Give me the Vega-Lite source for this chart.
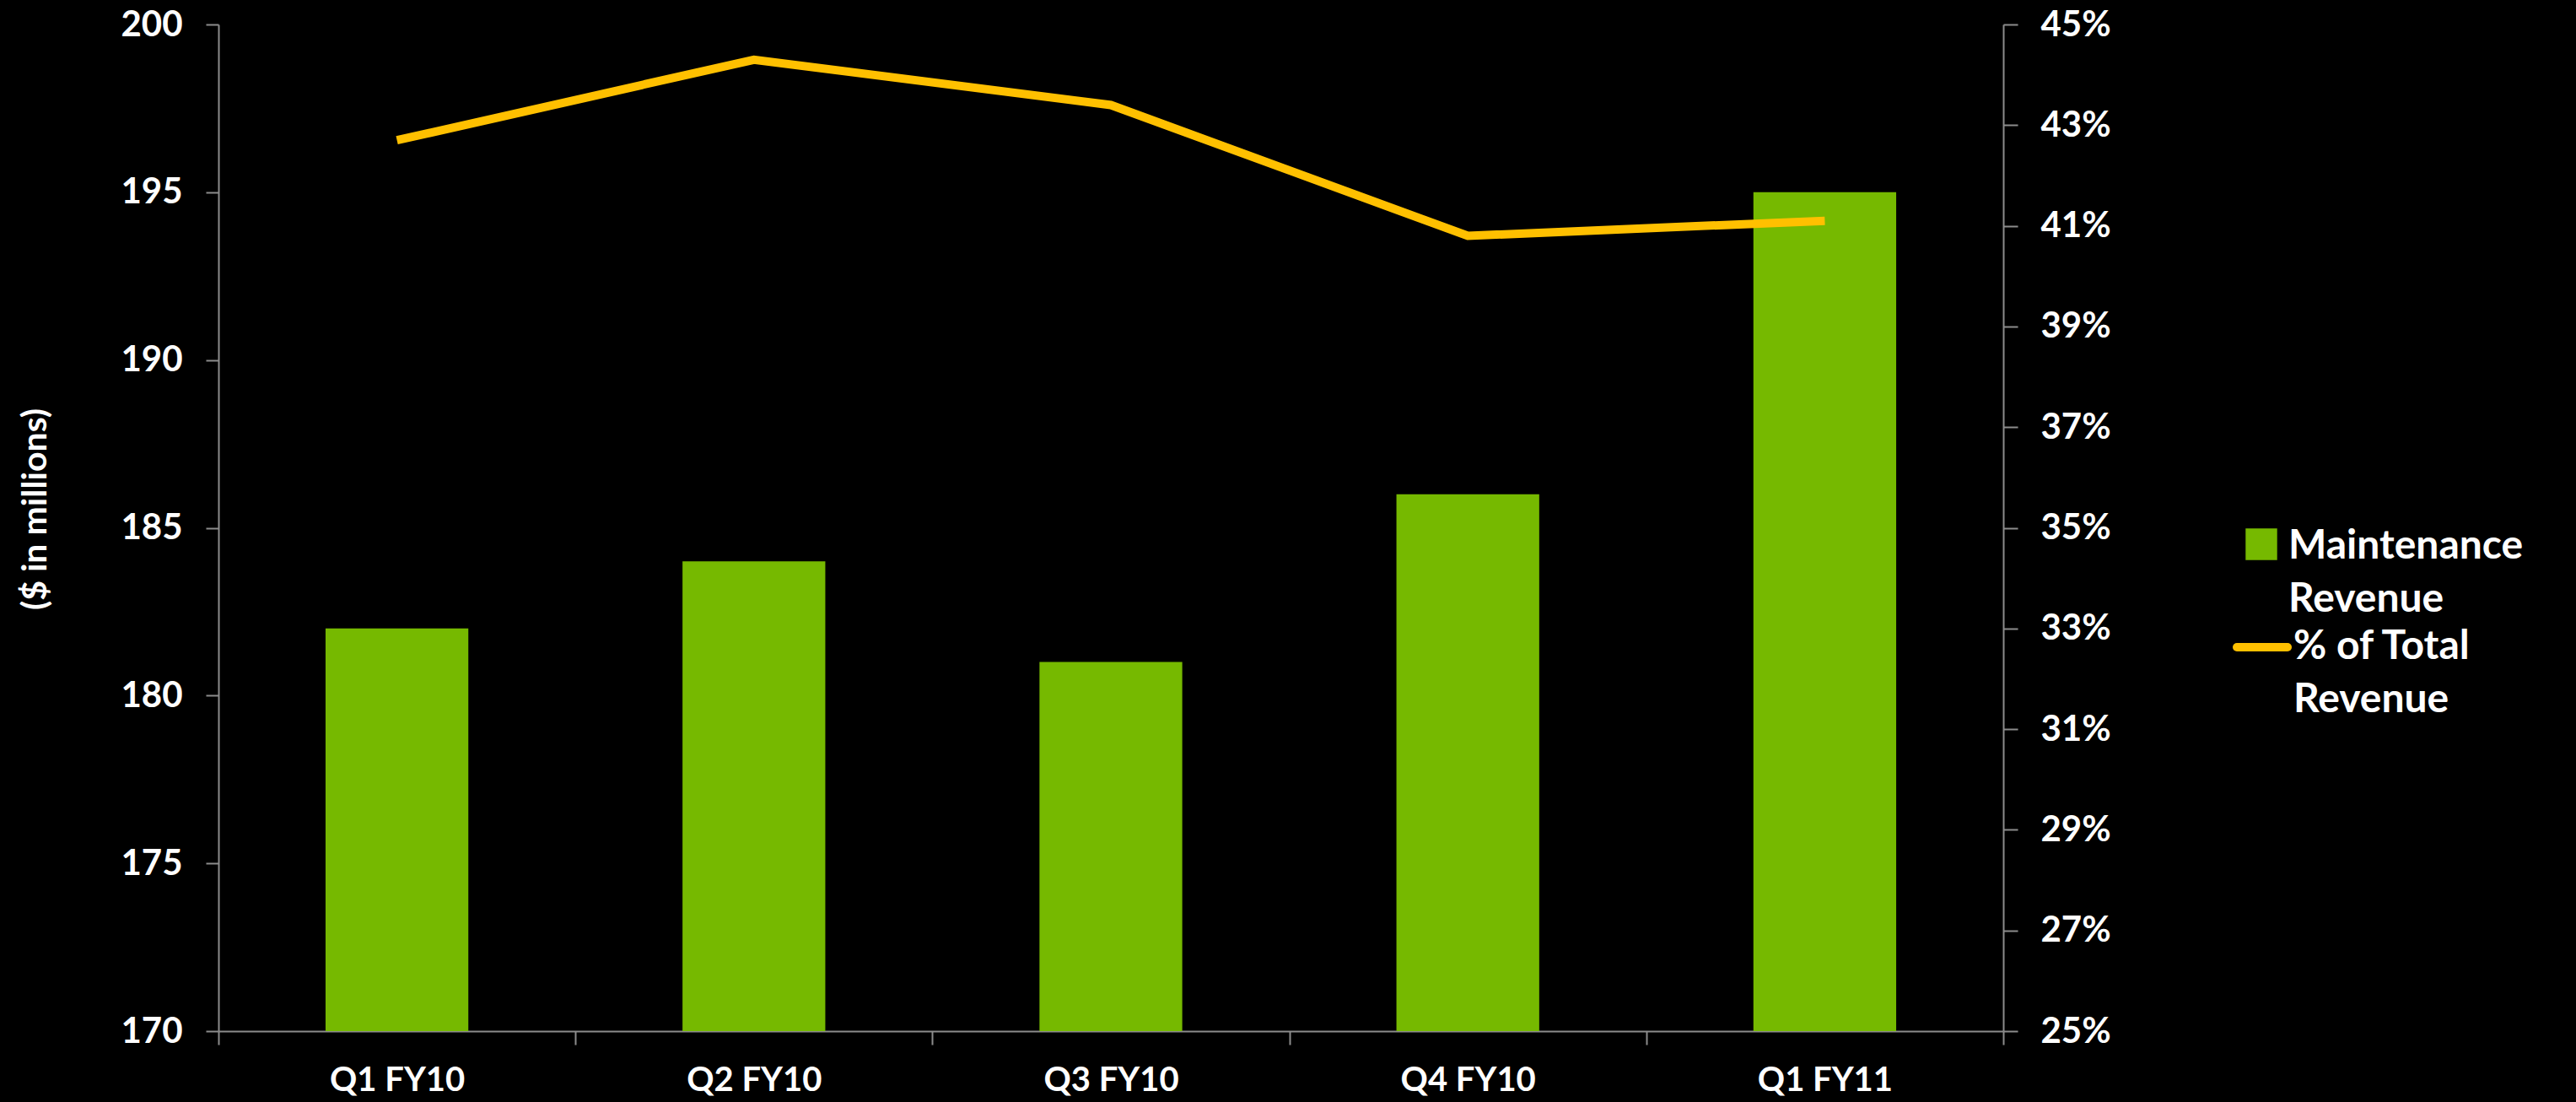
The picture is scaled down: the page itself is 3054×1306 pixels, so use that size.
{
  "$schema": "https://vega.github.io/schema/vega-lite/v6.json",
  "width": 2116,
  "height": 1193,
  "autosize": {"type": "none"},
  "padding": {"left": 259, "top": 29, "right": 679, "bottom": 84},
  "background": "#000000",
  "config": {
    "view": {"stroke": null},
    "font": "Lato",
    "axis": {
      "domainColor": "#8c8c8c",
      "tickColor": "#8c8c8c",
      "domainWidth": 2,
      "tickWidth": 2,
      "labelColor": "#ffffff",
      "labelFont": "Lato",
      "labelFontWeight": "bold",
      "labelFontSize": 42,
      "grid": false
    }
  },
  "data": {
    "values": [
      {"quarter": "Q1 FY10", "revenue": 182, "pct": 42.7},
      {"quarter": "Q2 FY10", "revenue": 184, "pct": 44.3},
      {"quarter": "Q3 FY10", "revenue": 181, "pct": 43.4},
      {"quarter": "Q4 FY10", "revenue": 186, "pct": 40.8},
      {"quarter": "Q1 FY11", "revenue": 195, "pct": 41.1}
    ]
  },
  "encoding": {
    "x": {
      "field": "quarter",
      "type": "nominal",
      "sort": null,
      "scale": {"paddingInner": 0, "paddingOuter": 0},
      "axis": {"title": null, "labelAngle": 0, "tickBand": "extent", "tickSize": 16, "labelPadding": 22, "labelFontSize": 40, "labelLimit": 400}
    }
  },
  "layer": [
    {
      "mark": {"type": "bar", "color": "#76B900", "width": {"band": 0.4}},
      "encoding": {
        "y": {
          "field": "revenue",
          "type": "quantitative",
          "scale": {"domain": [170, 200], "zero": false, "nice": false},
          "axis": {
            "orient": "left",
            "values": [170, 175, 180, 185, 190, 195, 200],
            "tickSize": 15,
            "labelPadding": 28,
            "title": "($ in millions)",
            "titleColor": "#ffffff",
            "titleFont": "Lato",
            "titleFontWeight": "bold",
            "titleFontSize": 41,
            "titleX": -217,
            "titleY": 574,
            "titleAngle": -90,
            "titleAlign": "center",
            "titleBaseline": "middle"
          }
        },
        "y2": {"datum": 170},
        "fill": {
          "datum": "Maintenance|Revenue",
          "type": "nominal",
          "scale": {"range": ["#76B900"]},
          "legend": {
            "title": null,
            "orient": "none",
            "legendX": 2398,
            "legendY": 592,
            "labelExpr": "split(datum.label, '|')",
            "labelFont": "Lato",
            "labelFontSize": 48,
            "labelFontWeight": "bold",
            "labelColor": "#ffffff",
            "labelLimit": 600,
            "labelOffset": 8,
            "labelBaseline": "top",
            "symbolType": "square",
            "symbolSize": 1400,
            "symbolStrokeWidth": 0,
            "encode": {"labels": {"update": {"lineHeight": {"value": 63}, "dy": {"value": -21}}}}
          }
        }
      }
    },
    {
      "mark": {"type": "line", "strokeWidth": 10, "color": "#FFC000"},
      "encoding": {
        "y": {
          "field": "pct",
          "type": "quantitative",
          "scale": {"domain": [25, 45], "zero": false, "nice": false},
          "axis": {
            "orient": "right",
            "values": [25, 27, 29, 31, 33, 35, 37, 39, 41, 43, 45],
            "labelExpr": "datum.value + '%'",
            "tickSize": 17,
            "labelPadding": 27,
            "title": null
          }
        },
        "stroke": {
          "datum": "% of Total|Revenue",
          "type": "nominal",
          "scale": {"range": ["#FFC000"]},
          "legend": {
            "title": null,
            "orient": "none",
            "legendX": 2388,
            "legendY": 703,
            "labelExpr": "split(datum.label, '|')",
            "labelFont": "Lato",
            "labelFontSize": 48,
            "labelFontWeight": "bold",
            "labelColor": "#ffffff",
            "labelLimit": 600,
            "labelOffset": 2,
            "labelBaseline": "top",
            "symbolType": "stroke",
            "symbolSize": 3600,
            "symbolStrokeWidth": 10,
            "encode": {
              "labels": {"update": {"lineHeight": {"value": 63}, "dy": {"value": -24}}},
              "symbols": {"update": {"strokeCap": {"value": "round"}}}
            }
          }
        }
      }
    }
  ],
  "resolve": {"scale": {"y": "independent"}}
}
